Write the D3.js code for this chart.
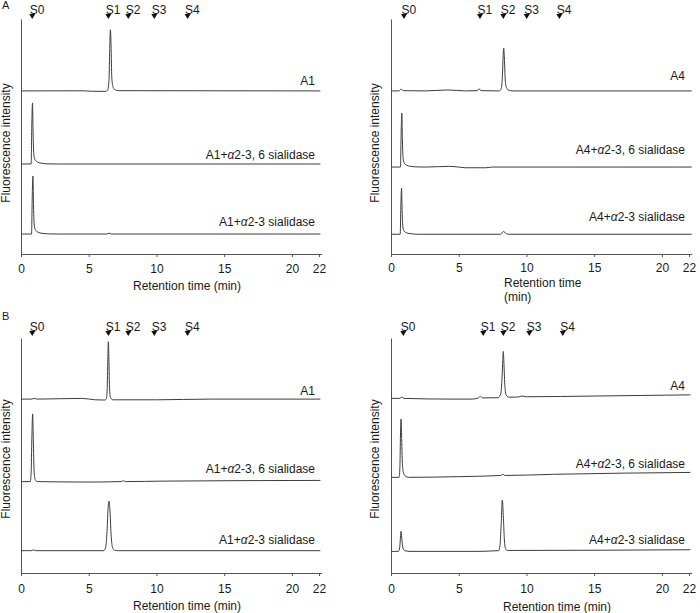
<!DOCTYPE html>
<html>
<head>
<meta charset="utf-8">
<script src="https://cdn.jsdelivr.net/npm/d3@7/dist/d3.min.js"></script>
<style>
  html, body { margin: 0; padding: 0; background: #fff; }
  svg { display: block; font-family: Arial, "Liberation Sans", sans-serif; }
</style>
</head>
<body>
<svg id="chart" width="700" height="613"></svg>
<script>
// ---------------- DATA ----------------
const xTicks = [0, 5, 10, 15, 20, 22];
const standards = ["S0", "S1", "S2", "S3", "S4"];

// standard marker retention times (min) per panel
const markersA_A1 = [0.83, 6.45, 7.92, 9.84, 12.3];
const markersA_A4 = [0.96, 6.57, 8.29, 10.02, 12.43];
const markersB_A1 = [0.83, 6.45, 7.92, 9.84, 12.3];
const markersB_A4 = [0.91, 6.81, 8.29, 10.21, 12.68];

const namesA1 = ["A1", "A1+α2-3, 6 sialidase", "A1+α2-3 sialidase"];
const namesA4 = ["A4", "A4+α2-3, 6 sialidase", "A4+α2-3 sialidase"];

// baseline offsets of stacked traces (intensity units, top to bottom)
const offsetsA_A1 = [69.4, 38.3, 8.5];
const offsetsA_A4 = [69.4, 37.0, 8.4];
const offsetsB_A1 = [74.0, 38.9, 9.5];
const offsetsB_A4 = [74.3, 40.7, 9.2];

// chromatograms: [retention time (min), intensity above baseline]
const traceA_A1_1 = [[0,0],[4.6,0.05],[5.2,-0.15],[6.2,-0.2],[6.4,0.3],[6.5,5],[6.55,18],[6.6,26],[6.65,19],[6.7,6],[6.78,2],[6.9,0.6],[7.2,0.1],[22.1,0]];
const traceA_A1_2 = [[0,0],[0.75,0],[0.79,14],[0.85,26],[0.89,14],[0.94,4.5],[1.02,2],[1.2,0.9],[1.5,0.35],[2.0,0.05],[2.6,0],[22.1,0]];
const traceA_A1_3 = [[0,0],[0.78,0],[0.82,13],[0.88,24.7],[0.92,13],[0.97,4.3],[1.05,1.9],[1.25,0.8],[1.55,0.3],[2.1,0.05],[2.7,0],[6.35,0],[6.5,0.4],[6.65,0],[22.1,0]];

const traceA_A4_1 = [[0,0],[0.6,0],[0.74,0.8],[0.9,0.1],[2.5,0],[4.2,0.4],[5.5,0],[6.35,0.1],[6.5,0.9],[6.65,0.1],[8.0,0],[8.14,1],[8.22,6],[8.28,15],[8.32,18.2],[8.37,14],[8.43,5],[8.52,1.5],[8.65,0.4],[9.0,0],[22.2,0]];
const traceA_A4_2 = [[0,0],[0.7,0],[0.74,12],[0.8,23],[0.84,12],[0.89,4],[0.97,1.8],[1.15,0.8],[1.45,0.3],[2.0,0.05],[2.6,0],[4.3,0.3],[5.0,0],[5.5,-0.3],[7.0,-0.3],[7.5,0],[22.2,0]];
const traceA_A4_3 = [[0,0],[0.68,0],[0.72,10],[0.78,19.6],[0.82,10],[0.87,3.5],[0.95,1.5],[1.15,0.6],[1.5,0.2],[2.0,0],[8.1,0],[8.3,1.2],[8.5,0.3],[8.7,0],[22.2,0]];

const traceB_A1_1 = [[0,0],[0.8,0],[0.95,0.3],[1.2,0],[4.5,0.3],[5.5,-0.3],[6.15,-0.4],[6.3,0],[6.36,4],[6.41,17],[6.45,24.4],[6.49,17],[6.54,4],[6.62,0.5],[6.8,-0.3],[10,-0.3],[14,0],[22.1,0]];
const traceB_A1_2 = [[0,0],[0.68,0],[0.75,4],[0.8,18],[0.86,28.8],[0.91,18],[0.97,4],[1.05,0.8],[1.2,0],[5,-0.2],[7.4,0],[7.55,0.4],[7.7,0],[10.5,0.2],[22.1,0.5]];
const traceB_A1_3 = [[0,0],[0.75,0],[0.9,0.3],[1.1,0],[6.1,0],[6.25,1.5],[6.35,8],[6.44,19],[6.5,21.1],[6.56,18],[6.65,7],[6.75,1.5],[6.9,0.2],[7.2,0],[22.1,0]];

const traceB_A4_1 = [[0,0],[0.65,0],[0.8,0.6],[0.95,0],[4.5,-0.3],[6.0,-0.3],[6.45,0.2],[6.6,0.9],[6.75,0.2],[7.9,0.3],[8.1,2],[8.2,9],[8.25,16],[8.29,20],[8.33,16],[8.4,6],[8.5,1.5],[8.7,0.5],[9.4,0.6],[9.65,1.0],[10,0.7],[15,1.0],[22.1,1.5]];
const traceB_A4_2 = [[0,0],[0.6,0],[0.66,5],[0.7,18],[0.74,24.8],[0.78,18],[0.84,6],[0.92,2],[1.05,0.6],[1.3,0],[5,0.3],[8.1,0.8],[8.25,1.3],[8.4,0.8],[12,1.3],[22.1,2.1]];
const traceB_A4_3 = [[0,0],[0.55,0],[0.64,1.5],[0.7,6],[0.74,8.5],[0.79,6],[0.86,2],[0.95,0.6],[1.1,0.2],[1.4,0],[6.5,0],[7.5,0.2],[7.95,0.3],[8.05,2.5],[8.13,11],[8.22,21.8],[8.3,14],[8.38,4],[8.47,1],[8.6,0.4],[9,0.4],[22.1,0.7]];

// ---------------- LAYOUT ----------------
const svg = d3.select("#chart");
const pxPerMin = (319 - 21) / 22;

const panels = [
  { left: 21, top: 19, bottom: 254, markers: markersA_A1, names: namesA1, offsets: offsetsA_A1,
    traces: [traceA_A1_1, traceA_A1_2, traceA_A1_3], labelDy: [10, 9, 12], markerBase: 14,
    yTitleX: 6, yTitleY: 143, xTitle: ["Retention time (min)"], xTitleMode: "center", xTitleX: 187, xTitleY: 290, tickY: 272.5, letter: "A", letterY: 9 },
  { left: 391, top: 19, bottom: 254, markers: markersA_A4, names: namesA4, offsets: offsetsA_A4,
    traces: [traceA_A4_1, traceA_A4_2, traceA_A4_3], labelDy: [15, 17, 17.5], markerBase: 14,
    yTitleX: 375, yTitleY: 143, xTitle: ["Retention time", "(min)"], xTitleMode: "start", xTitleX: 504, xTitleY: 287, tickY: 272 },
  { left: 21, top: 338, bottom: 573, markers: markersB_A1, names: namesA1, offsets: offsetsB_A1,
    traces: [traceB_A1_1, traceB_A1_2, traceB_A1_3], labelDy: [8, 11, 10.7], markerBase: 331,
    yTitleX: 6, yTitleY: 459, xTitle: ["Retention time (min)"], xTitleMode: "center", xTitleX: 187, xTitleY: 610, tickY: 593, letter: "B", letterY: 320 },
  { left: 391, top: 338, bottom: 573, markers: markersB_A4, names: namesA4, offsets: offsetsB_A4,
    traces: [traceB_A4_1, traceB_A4_2, traceB_A4_3], labelDy: [9, 8, 9.5], markerBase: 331,
    yTitleX: 375, yTitleY: 459, xTitle: ["Retention time (min)"], xTitleMode: "center", xTitleX: 557, xTitleY: 611, tickY: 593 }
];

const traceColor = "#3c3c3c";
const axisColor = "#555";
const textColor = "#1a1a1a";

function addTraceLabel(sel, name) {
  // italic alpha
  const idx = name.indexOf("α");
  if (idx < 0) { sel.text(name); return; }
  sel.append("tspan").text(name.slice(0, idx));
  sel.append("tspan").attr("font-style", "italic").text("α");
  sel.append("tspan").text(name.slice(idx + 1));
}

panels.forEach(p => {
  const x = d3.scaleLinear().domain([0, 22.2]).range([p.left, p.left + 22.2 * pxPerMin]);
  const y = d3.scaleLinear().domain([0, 100]).range([p.bottom, p.top]);
  const g = svg.append("g");

  // x axis
  const xAxis = d3.axisBottom(x).tickValues(xTicks).tickSize(3).tickSizeOuter(0).tickFormat(d3.format("d"));
  const gx = g.append("g").attr("transform", `translate(0,${p.bottom})`).call(xAxis);
  gx.select(".domain").attr("stroke", axisColor);
  gx.selectAll(".tick line").attr("stroke", axisColor);
  gx.selectAll(".tick text").attr("fill", textColor).attr("font-size", 12)
    .attr("font-family", "Arial, 'Liberation Sans', sans-serif")
    .attr("dy", null).attr("y", p.tickY - p.bottom);

  // y axis (plain line, no ticks)
  const yAxis = d3.axisLeft(y).tickValues([]).tickSizeOuter(0);
  const gy = g.append("g").attr("transform", `translate(${p.left},0)`).call(yAxis);
  gy.select(".domain").attr("stroke", axisColor);

  // y title
  g.append("text")
    .attr("transform", `translate(${p.yTitleX + 4},${p.yTitleY}) rotate(-90)`)
    .attr("text-anchor", "middle").attr("font-size", 12).attr("fill", textColor)
    .text("Fluorescence intensity");

  // x title
  p.xTitle.forEach((t, i) => {
    g.append("text")
      .attr("x", p.xTitleX).attr("y", p.xTitleY + i * 14)
      .attr("text-anchor", p.xTitleMode === "center" ? "middle" : "start")
      .attr("font-size", 12).attr("fill", textColor).text(t);
  });

  // traces
  const line = d3.line()
    .x(d => x(d[0]))
    .y(d => y(d[1]))
    .curve(d3.curveMonotoneX);
  p.traces.forEach((tr, i) => {
    const off = p.offsets[i];
    g.append("path")
      .datum(tr.map(d => [d[0], d[1] + off]))
      .attr("fill", "none").attr("stroke", traceColor).attr("stroke-width", 1)
      .attr("stroke-linejoin", "round")
      .attr("d", line);
    const lastVal = tr[tr.length - 1][1] + off;
    const lbl = g.append("text")
      .attr("x", x(22) - 4)
      .attr("y", y(lastVal) - p.labelDy[i] + 4)
      .attr("text-anchor", "end").attr("font-size", 12).attr("fill", textColor);
    addTraceLabel(lbl, p.names[i]);
  });

  // standard markers
  p.markers.forEach((m, i) => {
    const cx = x(m);
    g.append("path")
      .attr("d", `M${cx - 3},${p.markerBase} L${cx + 3},${p.markerBase} L${cx},${p.markerBase + 5} Z`)
      .attr("fill", "#111");
    g.append("text")
      .attr("x", cx - 2.5).attr("y", p.markerBase)
      .attr("font-size", 12).attr("fill", textColor)
      .text(standards[i]);
  });

  if (p.letter) {
    svg.append("text").attr("x", 2).attr("y", p.letterY)
      .attr("font-size", 11).attr("fill", textColor).text(p.letter);
  }
});
</script>
</body>
</html>
